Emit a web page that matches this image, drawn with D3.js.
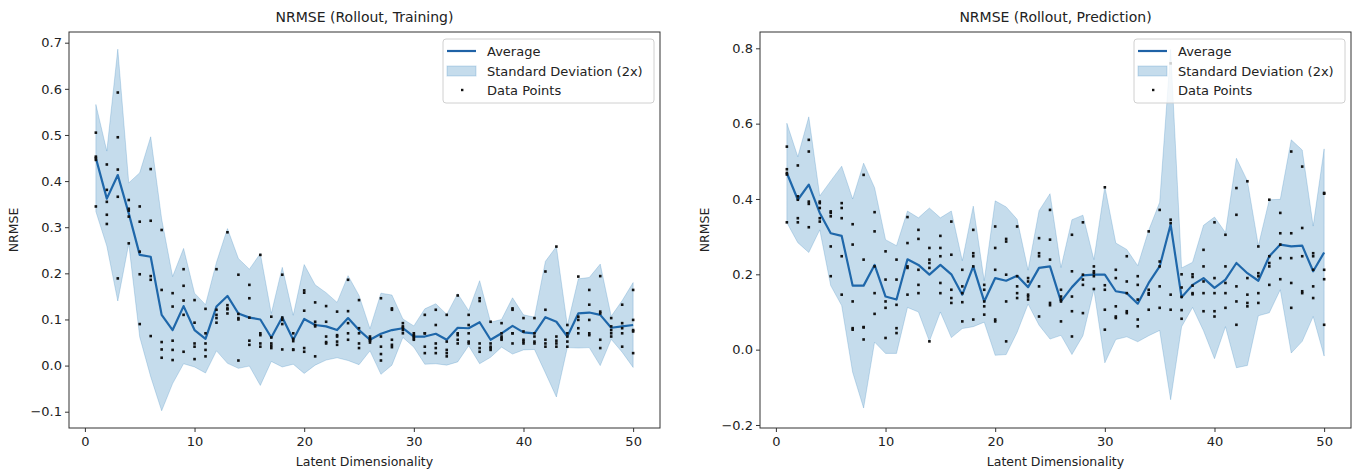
<!DOCTYPE html>
<html><head><meta charset="utf-8">
<script src="https://cdn.jsdelivr.net/npm/d3@7"></script>
<style>body{margin:0;background:#fff;} svg{display:block;} text{font-family:"DejaVu Sans",sans-serif;fill:#222;}</style>
</head><body><svg id="chart" width="1360" height="473"></svg>
<script>
const dims = [1,2,3,4,5,6,7,8,9,10,11,12,13,14,15,16,17,18,19,20,21,22,23,24,25,26,27,28,29,30,31,32,33,34,35,36,37,38,39,40,41,42,43,44,45,46,47,48,49,50];
const xTicks = [0,10,20,30,40,50];
const trainYTicks = [-0.1,0,0.1,0.2,0.3,0.4,0.5,0.6,0.7];
const predYTicks = [-0.2,0,0.2,0.4,0.6,0.8];
const legendLabels = ["Average","Standard Deviation (2x)","Data Points"];

const trainMean = [0.45,0.362,0.413,0.33,0.24,0.236,0.11,0.077,0.129,0.077,0.058,0.128,0.151,0.113,0.104,0.1,0.061,0.105,0.056,0.101,0.088,0.085,0.077,0.103,0.077,0.056,0.069,0.077,0.081,0.063,0.063,0.069,0.056,0.082,0.081,0.094,0.056,0.07,0.086,0.072,0.07,0.105,0.095,0.063,0.113,0.115,0.11,0.082,0.085,0.088];
const trainSd2 = [0.116,0.103,0.273,0.066,0.178,0.26,0.208,0.116,0.125,0.08,0.074,0.096,0.146,0.119,0.105,0.143,0.052,0.108,0.053,0.118,0.087,0.073,0.06,0.092,0.075,0.024,0.088,0.076,0.02,0.023,0.06,0.065,0.055,0.074,0.038,0.09,0.038,0.03,0.061,0.038,0.035,0.121,0.163,0.024,0.075,0.076,0.11,0.025,0.056,0.092];
const trainPoints = [
[0.505,0.453,0.446,0.45,0.345],[0.436,0.381,0.355,0.327,0.307],[0.592,0.495,0.425,0.366,0.189],[0.359,0.34,0.336,0.323,0.265],[0.345,0.312,0.247,0.198,0.09],
[0.426,0.314,0.194,0.186,0.064],[0.294,0.164,0.051,0.035,0.017],[0.157,0.128,0.054,0.034,0.012],[0.209,0.173,0.141,0.11,0.03],[0.142,0.093,0.048,0.041,0.014],
[0.123,0.07,0.048,0.034,0.02],[0.209,0.121,0.11,0.103,0.093],[0.289,0.131,0.124,0.122,0.113],[0.197,0.112,0.103,0.1,0.011],[0.175,0.146,0.104,0.054,0.045],
[0.24,0.07,0.066,0.048,0.041],[0.106,0.061,0.048,0.043,0.038],[0.197,0.104,0.099,0.09,0.035],[0.07,0.058,0.053,0.035,0.034],[0.163,0.158,0.119,0.038,0.03],
[0.137,0.095,0.088,0.085,0.02],[0.129,0.095,0.063,0.051,0.048],[0.117,0.066,0.063,0.052,0.045],[0.186,0.118,0.092,0.07,0.056],[0.142,0.081,0.07,0.048,0.038],
[0.063,0.059,0.056,0.054,0.05],[0.146,0.063,0.041,0.025,0.011],[0.124,0.121,0.056,0.045,0.04],[0.092,0.085,0.082,0.077,0.07],[0.07,0.066,0.063,0.059,0.056],
[0.11,0.07,0.07,0.041,0.027],[0.121,0.088,0.048,0.038,0.027],[0.11,0.052,0.034,0.027,0.02],[0.152,0.07,0.066,0.056,0.048],[0.11,0.088,0.07,0.052,0.048],
[0.146,0.14,0.048,0.038,0.03],[0.095,0.048,0.041,0.038,0.034],[0.092,0.07,0.063,0.059,0.056],[0.124,0.121,0.07,0.07,0.048],[0.103,0.074,0.056,0.052,0.048],
[0.103,0.07,0.063,0.052,0.048],[0.204,0.121,0.056,0.048,0.041],[0.258,0.063,0.054,0.048,0.041],[0.088,0.07,0.063,0.052,0.041],[0.193,0.106,0.099,0.081,0.07],
[0.164,0.132,0.099,0.07,0.066],[0.194,0.117,0.113,0.056,0.038],[0.103,0.085,0.077,0.07,0.063],[0.132,0.092,0.081,0.07,0.041],[0.164,0.099,0.077,0.074,0.027]
];

const predMean = [0.469,0.398,0.438,0.363,0.309,0.302,0.17,0.17,0.225,0.141,0.133,0.24,0.225,0.199,0.225,0.2,0.146,0.221,0.128,0.19,0.183,0.196,0.166,0.217,0.221,0.128,0.166,0.197,0.199,0.199,0.155,0.15,0.122,0.177,0.221,0.332,0.139,0.172,0.19,0.164,0.186,0.23,0.203,0.183,0.248,0.279,0.274,0.276,0.208,0.258];
const predSd2 = [0.132,0.114,0.18,0.045,0.139,0.185,0.23,0.325,0.205,0.151,0.143,0.128,0.125,0.177,0.125,0.168,0.09,0.16,0.055,0.205,0.196,0.15,0.045,0.152,0.193,0.09,0.179,0.16,0.04,0.234,0.128,0.116,0.101,0.14,0.17,0.465,0.078,0.06,0.14,0.188,0.125,0.278,0.245,0.093,0.15,0.12,0.283,0.254,0.12,0.275];
const predPoints = [
[0.539,0.479,0.469,0.465,0.338],[0.489,0.407,0.398,0.349,0.338],[0.557,0.526,0.393,0.387,0.325],[0.393,0.389,0.376,0.349,0.34],[0.367,0.363,0.354,0.274,0.195],
[0.389,0.376,0.349,0.248,0.146],[0.333,0.279,0.128,0.057,0.053],[0.464,0.239,0.06,0.059,0.027],[0.365,0.314,0.221,0.15,0.095],[0.261,0.186,0.128,0.111,0.031],
[0.239,0.186,0.119,0.057,0.044],[0.352,0.283,0.221,0.217,0.146],[0.318,0.294,0.212,0.172,0.15],[0.27,0.239,0.23,0.217,0.022],[0.302,0.27,0.248,0.177,0.15],
[0.34,0.252,0.159,0.137,0.124],[0.212,0.168,0.15,0.126,0.075],[0.318,0.256,0.248,0.221,0.08],[0.172,0.159,0.128,0.115,0.093],[0.327,0.27,0.212,0.08,0.075],
[0.294,0.287,0.199,0.128,0.022],[0.327,0.195,0.168,0.15,0.137],[0.19,0.181,0.146,0.141,0.133],[0.296,0.256,0.248,0.168,0.088],[0.371,0.292,0.239,0.124,0.118],
[0.159,0.141,0.133,0.128,0.075],[0.305,0.208,0.141,0.102,0.035],[0.338,0.199,0.186,0.172,0.097],[0.221,0.208,0.203,0.195,0.161],[0.431,0.171,0.159,0.106,0.053],
[0.212,0.19,0.115,0.088,0.084],[0.248,0.181,0.15,0.102,0.097],[0.195,0.172,0.133,0.08,0.062],[0.314,0.159,0.15,0.146,0.106],[0.371,0.234,0.221,0.168,0.111],
[0.76,0.345,0.336,0.146,0.106],[0.2,0.165,0.14,0.105,0.082],[0.2,0.193,0.17,0.15,0.147],[0.265,0.221,0.181,0.15,0.102],[0.338,0.19,0.15,0.102,0.088],
[0.305,0.221,0.177,0.15,0.111],[0.429,0.358,0.168,0.128,0.066],[0.447,0.19,0.146,0.124,0.115],[0.274,0.203,0.195,0.15,0.124],[0.398,0.248,0.23,0.221,0.172],
[0.363,0.309,0.279,0.243,0.187],[0.526,0.309,0.243,0.177,0.111],[0.486,0.323,0.248,0.155,0.15],[0.256,0.248,0.212,0.168,0.137],[0.416,0.414,0.212,0.187,0.066]
];

const svg = d3.select("#chart");
const BLUE = "#1f77b4";
const LINE = "#1f62a6";

function panel(o) {
  const x = d3.scaleLinear().domain([-1.45, 52.45]).range([o.left, o.right]);
  const y = d3.scaleLinear().domain(o.yDomain).range([o.bottom, o.top]);
  const g = svg.append("g");

  const area = d3.area()
    .x((d, i) => x(dims[i]))
    .y0((d, i) => y(o.mean[i] - o.sd2[i]))
    .y1((d, i) => y(o.mean[i] + o.sd2[i]));
  const line = d3.line().x((d, i) => x(dims[i])).y(d => y(d));

  g.append("path").datum(o.mean).attr("d", line)
    .attr("fill", "none").attr("stroke", LINE).attr("stroke-width", 2.2).attr("stroke-linejoin", "round");
  g.append("path").datum(o.mean).attr("d", area)
    .attr("fill", BLUE).attr("fill-opacity", 0.26)
    .attr("stroke", BLUE).attr("stroke-opacity", 0.22).attr("stroke-width", 1);

  const pts = [];
  o.points.forEach((arr, i) => arr.forEach(v => pts.push([dims[i], v])));
  g.append("g").selectAll("rect").data(pts).join("rect")
    .attr("x", d => x(d[0]) - 1.3).attr("y", d => y(d[1]) - 1.3)
    .attr("width", 2.6).attr("height", 2.6).attr("fill", "#111");

  const xa = g.append("g").attr("transform", `translate(0,${o.bottom})`)
    .call(d3.axisBottom(x).tickValues(xTicks).tickSize(4).tickSizeOuter(0).tickPadding(5).tickFormat(d3.format("d")));
  const ya = g.append("g").attr("transform", `translate(${o.left},0)`)
    .call(d3.axisLeft(y).tickValues(o.yTicks).tickSize(4).tickSizeOuter(0).tickPadding(3).tickFormat(d3.format(".1f")));
  [xa, ya].forEach(a => {
    a.select(".domain").remove();
    a.selectAll(".tick line").attr("stroke", "#333");
    a.selectAll(".tick text").attr("font-size", 13).attr("font-family", "DejaVu Sans").attr("fill", "#222");
  });

  g.append("rect").attr("x", o.left).attr("y", o.top)
    .attr("width", o.right - o.left).attr("height", o.bottom - o.top)
    .attr("fill", "none").attr("stroke", "#333").attr("stroke-width", 1);

  g.append("text").attr("x", (o.left + o.right) / 2).attr("y", 22)
    .attr("text-anchor", "middle").attr("font-size", 14).text(o.title);
  g.append("text").attr("x", (o.left + o.right) / 2).attr("y", 466)
    .attr("text-anchor", "middle").attr("font-size", 12.5).text("Latent Dimensionality");
  g.append("text").attr("transform", `translate(${o.ylabX},${(o.top + o.bottom) / 2}) rotate(-90)`)
    .attr("text-anchor", "middle").attr("dy", "0.35em").attr("font-size", 12.5).text("NRMSE");

  const lx = o.right - 217, ly = 39;
  const lg = g.append("g").attr("transform", `translate(${lx},${ly})`);
  lg.append("rect").attr("width", 211).attr("height", 64).attr("rx", 3)
    .attr("fill", "#fff").attr("fill-opacity", 0.8).attr("stroke", "#d0d0d0");
  const rows = [12, 32, 51];
  lg.append("line").attr("x1", 4).attr("x2", 33).attr("y1", rows[0]).attr("y2", rows[0])
    .attr("stroke", LINE).attr("stroke-width", 2.2);
  lg.append("rect").attr("x", 4).attr("y", rows[1] - 5).attr("width", 29).attr("height", 10)
    .attr("fill", BLUE).attr("fill-opacity", 0.26).attr("stroke", BLUE).attr("stroke-opacity", 0.22);
  lg.append("rect").attr("x", 18).attr("y", rows[2] - 1.2).attr("width", 2.4).attr("height", 2.4).attr("fill", "#111");
  legendLabels.forEach((t, i) => {
    lg.append("text").attr("x", 44).attr("y", rows[i]).attr("dy", "0.35em")
      .attr("font-size", 13).text(t);
  });
}

panel({left: 69, right: 660, top: 32, bottom: 428, yDomain: [-0.1353, 0.7232], yTicks: trainYTicks,
  mean: trainMean, sd2: trainSd2, points: trainPoints, title: "NRMSE (Rollout, Training)", ylabX: 14});
panel({left: 760, right: 1351, top: 32, bottom: 428, yDomain: [-0.208, 0.8433], yTicks: predYTicks,
  mean: predMean, sd2: predSd2, points: predPoints, title: "NRMSE (Rollout, Prediction)", ylabX: 705});
</script></body></html>
